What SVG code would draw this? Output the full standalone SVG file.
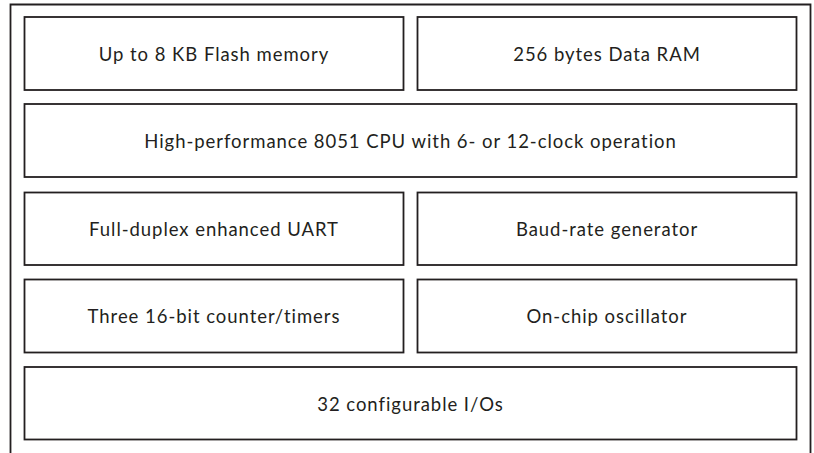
<svg xmlns="http://www.w3.org/2000/svg" width="814" height="453" viewBox="0 0 814 453">
<style>
.b{fill:#fff;stroke:#231f20;stroke-width:1.8}
.t{font-family:Lato,"Noto Sans",sans-serif;font-size:18.5px;letter-spacing:0.95px;fill:#231f20;text-anchor:middle}
</style>
<rect width="814" height="453" fill="#fff"/>
<path id="frame" d="M10.5 453 V4.5 H810.5 V453" fill="none" stroke="#231f20" stroke-width="1.8"/>
<g id="flash"><rect class="b" x="24.5" y="17" width="379" height="73"/><text class="t" x="214" y="61">Up to 8 KB Flash memory</text></g>
<g id="ram"><rect class="b" x="417.5" y="17" width="379" height="73"/><text class="t" x="607" y="61">256 bytes Data RAM</text></g>
<g id="cpu"><rect class="b" x="24.5" y="104" width="772" height="73"/><text class="t" x="410.5" y="148">High-performance 8051 CPU with 6- or 12-clock operation</text></g>
<g id="uart"><rect class="b" x="24.5" y="192.5" width="379" height="72.5"/><text class="t" x="214" y="236">Full-duplex enhanced UART</text></g>
<g id="baud"><rect class="b" x="417.5" y="192.5" width="379" height="72.5"/><text class="t" x="607" y="236">Baud-rate generator</text></g>
<g id="timers"><rect class="b" x="24.5" y="279.5" width="379" height="73"/><text class="t" x="214" y="323">Three 16-bit counter/timers</text></g>
<g id="osc"><rect class="b" x="417.5" y="279.5" width="379" height="73"/><text class="t" x="607" y="323">On-chip oscillator</text></g>
<g id="io"><rect class="b" x="24.5" y="367" width="772" height="72.5"/><text class="t" x="410.5" y="410.5">32 configurable I/Os</text></g>
<g id="connectors"/>
</svg>
